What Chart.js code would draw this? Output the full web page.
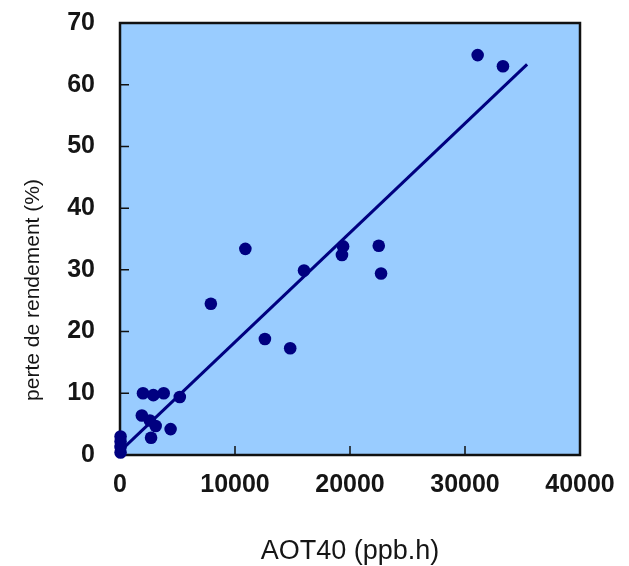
<!DOCTYPE html>
<html>
<head>
<meta charset="utf-8">
<script src="https://cdn.jsdelivr.net/npm/chart.js@4"></script>
<style>
  html, body { margin: 0; padding: 0; background: #fff; }
  #wrap { width: 629px; height: 566px; }
</style>
</head>
<body>
<div id="wrap"><canvas id="chart" width="629" height="566"></canvas></div>
<script>
// measured points (AOT40 in ppb.h, yield loss in %)
const aotValues = [50, 50, 50, 50, 2000, 2900, 3800, 5200, 1900, 2600, 3100, 4400, 2700,
  7900, 10900, 12600, 14800, 16000, 19300, 19400, 22500, 22700, 31100, 33300];
const lossValues = [0.4, 1.3, 2.2, 3.0, 10, 9.7, 10, 9.4, 6.4, 5.6, 4.7, 4.2, 2.8,
  24.5, 33.4, 18.8, 17.3, 29.9, 32.4, 33.8, 33.9, 29.4, 64.8, 63.0];
// regression line end points
const fitX = [0, 35400];
const fitY = [0.6, 63.3];
// axis ticks
const xTicks = [0, 10000, 20000, 30000, 40000];
const yTicks = [0, 10, 20, 30, 40, 50, 60, 70];

const xTitle = 'AOT40 (ppb.h)';
const yTitle = 'perte de rendement (%)';

const navy = '#000080';
const textColor = '#151515';

// light blue plot area, black frame with inward ticks, rotated y title
const framePlugin = {
  id: 'frame',
  beforeDraw(chart) {
    const { ctx, chartArea: a } = chart;
    ctx.save();
    ctx.fillStyle = '#99ccff';
    ctx.fillRect(a.left, a.top, a.right - a.left, a.bottom - a.top);
    ctx.restore();
  },
  beforeDatasetsDraw(chart) {
    const { ctx, chartArea: a, scales } = chart;
    ctx.save();
    ctx.strokeStyle = '#111';
    ctx.lineWidth = 1.5;
    ctx.beginPath();
    yTicks.slice(1, -1).forEach(v => {
      const y = scales.y.getPixelForValue(v);
      ctx.moveTo(a.left, y);
      ctx.lineTo(a.left + 9, y);
    });
    xTicks.slice(1, -1).forEach(v => {
      const x = scales.x.getPixelForValue(v);
      ctx.moveTo(x, a.bottom);
      ctx.lineTo(x, a.bottom - 9);
    });
    ctx.stroke();
    ctx.lineWidth = 2.5;
    ctx.strokeRect(a.left, a.top, a.right - a.left, a.bottom - a.top);

    // y axis title, placed as in the reference (not centred on the axis)
    ctx.translate(33, 290);
    ctx.rotate(-Math.PI / 2);
    ctx.fillStyle = textColor;
    ctx.font = '21px "Liberation Sans", Arial, sans-serif';
    ctx.textAlign = 'center';
    ctx.textBaseline = 'middle';
    ctx.fillText(yTitle, 0, 0);
    ctx.restore();
  }
};

const points = aotValues.map((x, i) => ({ x, y: lossValues[i] }));
const fit = fitX.map((x, i) => ({ x, y: fitY[i] }));

// invisible tick marks used only as spacing between labels and the frame
const spacerGrid = len => ({
  display: true,
  drawOnChartArea: false,
  drawTicks: true,
  tickLength: len,
  tickColor: 'rgba(0,0,0,0)'
});

new Chart(document.getElementById('chart'), {
  type: 'scatter',
  data: {
    datasets: [
      {
        label: 'fit',
        data: fit,
        showLine: true,
        borderColor: navy,
        borderWidth: 3,
        pointRadius: 0,
        clip: false
      },
      {
        label: 'mesures',
        data: points,
        backgroundColor: navy,
        borderColor: navy,
        borderWidth: 0,
        pointRadius: 6.3,
        clip: false
      }
    ]
  },
  options: {
    responsive: false,
    animation: false,
    layout: { padding: { top: 23, right: 49, left: 0, bottom: 0 } },
    plugins: {
      legend: { display: false },
      tooltip: { enabled: false }
    },
    scales: {
      x: {
        type: 'linear',
        min: 0,
        max: 40000,
        afterFit: s => { s.height = 111; },
        afterBuildTicks: s => { s.ticks = xTicks.map(v => ({ value: v })); },
        grid: spacerGrid(15),
        border: { display: false },
        ticks: {
          padding: 0,
          color: textColor,
          maxRotation: 0,
          autoSkip: false,
          font: { family: '"Liberation Sans", Arial, sans-serif', size: 25, weight: 'bold', lineHeight: 1.2 },
          callback: v => String(v)
        },
        title: {
          display: true,
          text: xTitle,
          color: textColor,
          padding: { top: 0, bottom: 0 },
          font: { family: '"Liberation Sans", Arial, sans-serif', size: 27, lineHeight: 1.1 }
        }
      },
      y: {
        type: 'linear',
        min: 0,
        max: 70,
        afterFit: s => { s.width = 120; },
        afterBuildTicks: s => { s.ticks = yTicks.map(v => ({ value: v })); },
        grid: spacerGrid(25),
        border: { display: false },
        ticks: {
          padding: 0,
          color: textColor,
          autoSkip: false,
          font: { family: '"Liberation Sans", Arial, sans-serif', size: 25, weight: 'bold', lineHeight: 1.2 },
          callback: v => String(v)
        }
      }
    }
  },
  plugins: [framePlugin]
});
</script>
</body>
</html>
